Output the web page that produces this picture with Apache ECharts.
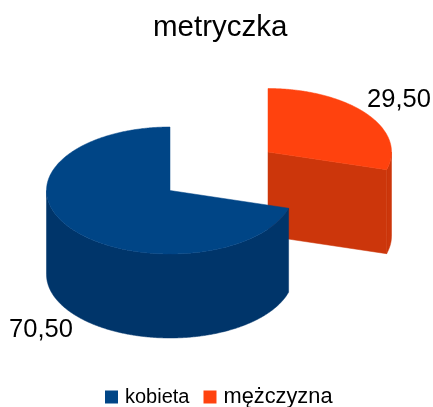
<!DOCTYPE html>
<html><head><meta charset="utf-8">
<style>html,body{margin:0;padding:0;background:#fff}#c{width:433px;height:407px}</style>
<script src="https://cdn.jsdelivr.net/npm/echarts@6/dist/echarts.min.js"></script>
</head><body><div id="c"></div>
<script>
const categories = ['kobieta', 'mężczyzna'];
const values = [70.5, 29.5];
const topColors = ['#004586', '#ff420e'];
const wallColors = ['#00356a', '#cc360b'];
const chartTitle = 'metryczka';

const total = values.reduce((a, b) => a + b, 0);
const FONT = '"Liberation Sans", Arial, sans-serif';
const RX = 123.5, RY = 63.5, DEPTH = 84;
const split = values[1] / total * 360;   // sweep boundary, degrees clockwise from 12 o'clock

// each slice: where its apex sits, the sweep, and the label anchor
const geo = [
  { cx: 170, cy: 190.5, from: split, to: 360, label: [41, 330] },
  { cx: 268, cy: 152, from: 0, to: split, label: [399, 100] }
];

function pt(g, deg, dy) {
  const r = deg * Math.PI / 180;
  return [g.cx + RX * Math.sin(r), g.cy - RY * Math.cos(r) + (dy || 0)];
}
function arc(g, a, b, dy) {
  const n = Math.max(2, Math.round(Math.abs(b - a) * 2)), out = [];
  for (let i = 0; i <= n; i++) out.push(pt(g, a + (b - a) * i / n, dy));
  return out;
}
function poly(points, fill) {
  return { type: 'polygon', shape: { points }, style: { fill, stroke: fill, lineWidth: 0.5 } };
}
function sliceItem(idx) {
  return function () {
    const g = geo[idx], top = topColors[idx], wall = wallColors[idx], ch = [];
    // visible outer wall: the part of the sweep on the front half (90..270 deg)
    const a = Math.max(g.from, 90), b = Math.min(g.to, 270);
    if (b > a) ch.push(poly(arc(g, a, b, 0).concat(arc(g, b, a, DEPTH)), wall));
    // cut face at the slice's clockwise end, when it faces the viewer
    if (g.to < 180) {
      const e = pt(g, g.to), eb = pt(g, g.to, DEPTH);
      ch.push(poly([[g.cx, g.cy], e, eb, [g.cx, g.cy + DEPTH]], wall));
    }
    // top face
    ch.push(poly([[g.cx, g.cy]].concat(arc(g, g.from, g.to, 0)), top));
    return { type: 'group', children: ch };
  };
}
function labelItem(idx) {
  return function () {
    return {
      type: 'text',
      style: {
        x: geo[idx].label[0], y: geo[idx].label[1],
        text: values[idx].toFixed(2).replace('.', ','),
        align: 'center', verticalAlign: 'middle',
        font: '25.5px ' + FONT, fill: '#000'
      }
    };
  };
}

const series = [1, 0].map(i => ({
  type: 'custom', name: categories[i], coordinateSystem: 'none',
  data: [values[i]], renderItem: sliceItem(i), silent: true, animation: false,
  itemStyle: { color: topColors[i] }
}));
[0, 1].forEach(i => series.push({
  type: 'custom', name: categories[i], coordinateSystem: 'none',
  data: [values[i]], renderItem: labelItem(i), silent: true, animation: false, z: 5,
  itemStyle: { color: topColors[i] }
}));

const chart = echarts.init(document.getElementById('c'), null, { renderer: 'canvas' });
chart.setOption({
  animation: false,
  backgroundColor: '#fff',
  title: {
    text: chartTitle, left: 148, top: 8,
    textStyle: { fontFamily: FONT, fontSize: 29.5, fontWeight: 'normal', color: '#000' }
  },
  legend: {
    data: categories, left: 105, top: 386, icon: 'rect', itemWidth: 13, itemHeight: 13,
    itemGap: 14, selectedMode: false, padding: 0, inactiveColor: '#000',
    formatter: n => n === categories[1] ? '{w|' + n + '}' : '{k|' + n + '}',
    textStyle: {
      fontFamily: FONT, color: '#000',
      rich: {
        k: { fontFamily: FONT, fontSize: 20, color: '#000', padding: [0, 0, 0, 2] },
        w: { fontFamily: FONT, fontSize: 21.8, color: '#000', padding: [0, 0, 0, 2] }
      }
    }
  },
  series
});
</script></body></html>
